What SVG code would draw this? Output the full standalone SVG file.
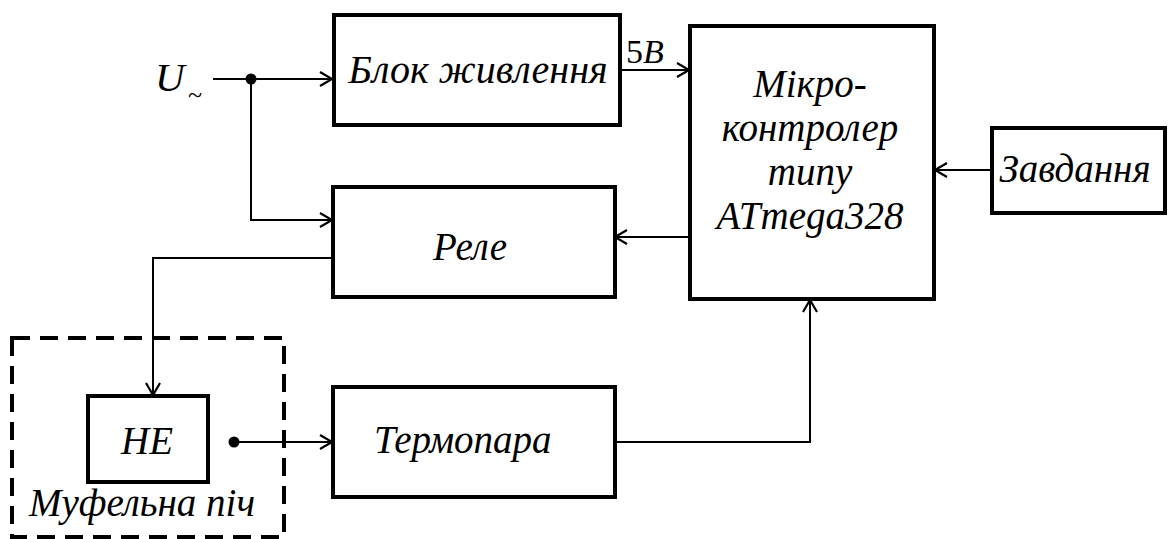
<svg xmlns="http://www.w3.org/2000/svg" width="1168" height="539" viewBox="0 0 1168 539">
<rect width="1168" height="539" fill="#fff"/>
<g id="connectors" fill="none" stroke="#000" stroke-width="2">
<line x1="213" y1="79" x2="332" y2="79"/>
<polyline points="320,72 332,79 320,86" stroke-width="2.2"/>
<polyline points="251,79 251,220 332,220"/>
<polyline points="320,213 332,220 320,227" stroke-width="2.2"/>
<line x1="620" y1="70" x2="689" y2="70"/>
<polyline points="677,63 689,70 677,77" stroke-width="2.2"/>
<line x1="991" y1="170" x2="935" y2="170"/>
<polyline points="947,163 935,170 947,177" stroke-width="2.2"/>
<line x1="690" y1="237" x2="615" y2="237"/>
<polyline points="627,230 615,237 627,244" stroke-width="2.2"/>
<polyline points="333,258 153,258 153,395"/>
<polyline points="146,383 153,395 160,383" stroke-width="2.2"/>
<line x1="234" y1="442" x2="332" y2="442"/>
<polyline points="320,435 332,442 320,449" stroke-width="2.2"/>
<polyline points="615,442 810,442 810,300"/>
<polyline points="803,312 810,300 817,312" stroke-width="2.2"/>
<circle cx="251" cy="79" r="5.5" fill="#000" stroke="none"/>
<circle cx="234" cy="442" r="5.5" fill="#000" stroke="none"/>
</g>
<g id="u-input">
<text x="155" y="91" font-family="'Times New Roman', 'Liberation Serif', serif" font-style="italic" font-size="41">U</text>
<text x="188" y="103" font-family="'Times New Roman', 'Liberation Serif', serif" font-size="26">~</text>
</g>
<g id="label-5v">
<text x="626" y="63" font-family="'Times New Roman', 'Liberation Serif', serif" font-size="34">5<tspan font-style="italic">B</tspan></text>
</g>
<g id="blok">
<rect x="334" y="15" width="286" height="110" fill="none" stroke="#000" stroke-width="4"/>
<text x="478" y="83" text-anchor="middle" font-family="'Times New Roman', 'Liberation Serif', serif" font-style="italic" font-size="40">Блок живлення</text>
</g>
<g id="micro">
<rect x="690" y="26" width="244" height="273" fill="none" stroke="#000" stroke-width="4"/>
<text x="810" y="97" text-anchor="middle" font-family="'Times New Roman', 'Liberation Serif', serif" font-style="italic" font-size="39">Мікро-</text>
<text x="810" y="141" text-anchor="middle" font-family="'Times New Roman', 'Liberation Serif', serif" font-style="italic" font-size="39">контролер</text>
<text x="810" y="185" text-anchor="middle" font-family="'Times New Roman', 'Liberation Serif', serif" font-style="italic" font-size="39">типу</text>
<text x="810" y="229" text-anchor="middle" font-family="'Times New Roman', 'Liberation Serif', serif" font-style="italic" font-size="39">ATmega328</text>
</g>
<g id="zavdannya">
<rect x="992" y="128" width="173" height="85" fill="none" stroke="#000" stroke-width="4"/>
<text x="1075" y="182" text-anchor="middle" font-family="'Times New Roman', 'Liberation Serif', serif" font-style="italic" font-size="39">Завдання</text>
</g>
<g id="rele">
<rect x="333" y="187" width="282" height="110" fill="none" stroke="#000" stroke-width="4"/>
<text x="470" y="260" text-anchor="middle" font-family="'Times New Roman', 'Liberation Serif', serif" font-style="italic" font-size="39">Реле</text>
</g>
<g id="mufel">
<rect x="12" y="338" width="272" height="199" fill="none" stroke="#000" stroke-width="4" stroke-dasharray="18 10"/>
<text x="142" y="516" text-anchor="middle" font-family="'Times New Roman', 'Liberation Serif', serif" font-style="italic" font-size="39">Муфельна піч</text>
</g>
<g id="he">
<rect x="88" y="396" width="120" height="86" fill="none" stroke="#000" stroke-width="4"/>
<text x="147" y="454" text-anchor="middle" font-family="'Times New Roman', 'Liberation Serif', serif" font-style="italic" font-size="39">HE</text>
</g>
<g id="termopara">
<rect x="333" y="387" width="282" height="110" fill="none" stroke="#000" stroke-width="4"/>
<text x="374" y="453" font-family="'Times New Roman', 'Liberation Serif', serif" font-style="italic" font-size="39">Термопара</text>
</g>
</svg>
